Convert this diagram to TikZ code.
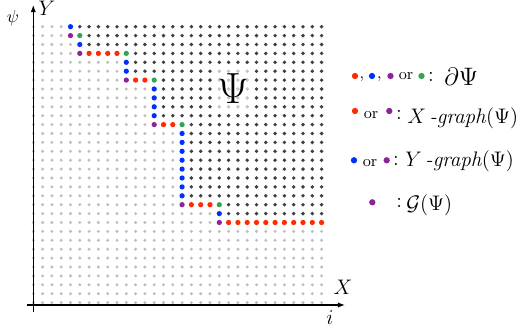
\documentclass[tikz,border=0pt]{standalone}
\usepackage{amsmath,amssymb}
\usetikzlibrary{arrows.meta}
\definecolor{cred}{RGB}{255,42,0}
\definecolor{cblue}{RGB}{0,48,255}
\definecolor{cpurple}{RGB}{140,35,150}
\definecolor{cgreen}{RGB}{50,165,85}

\begin{document}
\begin{tikzpicture}[x=0.57pt, y=-0.57pt,
  gdot/.style={fill=gray!50},
  ddot/.style={fill=black!75},
  axis/.style={line width=0.7pt, -{Latex[length=4pt,width=3pt]}},
  lbl/.style={inner sep=0pt, font={\large}},
  small/.style={inner sep=0pt, font={\small}}
]
\useasboundingbox (0,0) rectangle (528,334);
\begin{scope}[shift={(33.3,26.7)}, x=5.301pt, y=-5.073pt]
\foreach \r/\b in {0/5,1/6,2/6,3/11,4/11,5/11,6/14,7/14,8/14,9/14,10/14,11/17,12/17,13/17,14/17,15/17,16/17,17/17,18/17,19/17,20/21,21/21,22/32,23/32,24/32,25/32,26/32,27/32,28/32,29/32,30/32,31/32}
  \foreach \c in {0,...,31}{
    \ifnum\c<\b \fill[gdot] (\c,\r) circle[radius=0.95pt];
    \else \fill[ddot] (\c,\r) circle[radius=1.1pt];
    \fi
  };
\foreach \c/\r in {4/0,5/2,10/4,10/5,13/7,13/8,13/9,13/10,16/12,16/13,16/14,16/15,16/16,16/17,16/18,16/19,20/21}
  \fill[cblue] (\c,\r) circle[radius=1.5pt];
\foreach \c/\r in {4/1,5/3,10/6,13/11,16/20,20/22}
  \fill[cpurple] (\c,\r) circle[radius=1.5pt];
\foreach \c/\r in {5/1,10/3,13/6,16/11,20/20}
  \fill[cgreen] (\c,\r) circle[radius=1.5pt];
\foreach \c/\r in {6/3,7/3,8/3,9/3,11/6,12/6,14/11,15/11,17/20,18/20,19/20}
  \fill[cred] (\c,\r) circle[radius=1.5pt];
\foreach \c in {21,...,31}
  \fill[cred] (\c,22) circle[radius=1.5pt];
\end{scope}
\node[fill=white, fill opacity=0.7, text opacity=1, inner sep=0pt, minimum width=20.5pt, minimum height=24pt, font={\Huge}] (psi) at (233,89) {$\Psi$};

\coordinate (xs) at (26.7,305);
\coordinate (xe) at (345,305);
\coordinate (ys) at (33.3,311.7);
\coordinate (ye) at (33.3,5);
\draw[axis] (xs) -- (xe);
\draw[axis] (ys) -- (ye);
\node[font={\normalsize}] (lpsi) at (13,18) {$\psi$};
\node[font={\large}] (ly) at (47,8) {$Y$};
\node[font={\large}] (lx) at (343,287) {$X$};
\node[font={\large}] (li) at (330,318) {$i$};

\fill[cred] (355,76) circle[radius=1.8pt];
\node[small] (c1) at (362,79) {,};
\fill[cblue] (372,76) circle[radius=1.8pt];
\node[small] (c2) at (379.5,79) {,};
\fill[cpurple] (390.5,76) circle[radius=1.8pt];
\node[small] (or1) at (406,76) {or};
\fill[cgreen] (421.5,76) circle[radius=1.8pt];
\node[lbl] (col1) at (431,77) {:};
\node[lbl, font={\Large}, anchor=west] (bd) at (444,76.5) {$\partial\Psi$};

\fill[cred] (355,111) circle[radius=1.8pt];
\node[small] (or2) at (371,115) {or};
\fill[cpurple] (389.3,111) circle[radius=1.8pt];
\node[lbl] (col2) at (399,115) {:};
\node[lbl, anchor=west] (xg) at (407,118) {$X$\,\textit{-graph}$(\Psi)$};

\fill[cblue] (354,160.3) circle[radius=1.8pt];
\node[small] (or3) at (370,163.5) {or};
\fill[cpurple] (386.7,160.3) circle[radius=1.8pt];
\node[lbl] (col3) at (396,161) {:};
\node[lbl, anchor=west] (yg) at (405,161.5) {$Y$\,\textit{-graph}$(\Psi)$};

\fill[cpurple] (372.3,202.3) circle[radius=1.8pt];
\node[lbl] (col4) at (399.3,203) {:};
\node[lbl, anchor=west] (gg) at (406,205) {$\mathcal{G}(\Psi)$};
\end{tikzpicture}
\end{document}
